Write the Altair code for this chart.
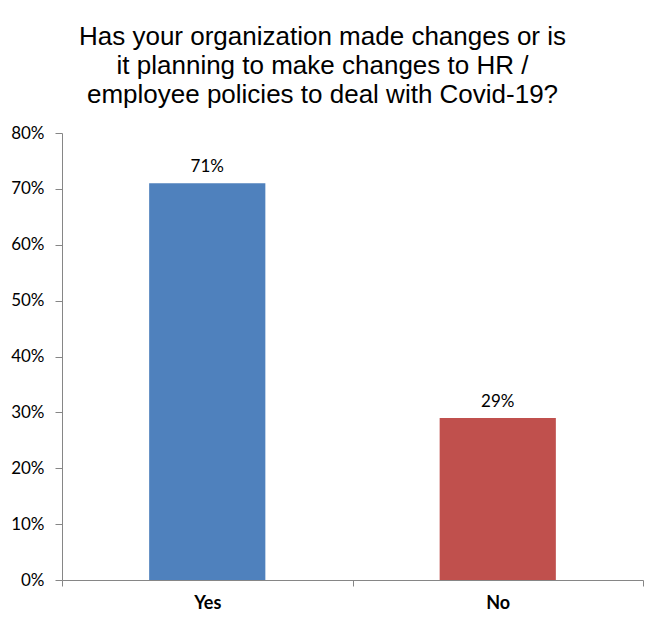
import altair as alt
import pandas as pd

categories = ["Yes", "No"]
values = [0.71, 0.29]
colors = ["#4F81BD", "#C0504D"]
y_ticks = [0, 0.1, 0.2, 0.3, 0.4, 0.5, 0.6, 0.7, 0.8]
title_lines = [
    "Has your organization made changes or is",
    "it planning to make changes to HR /",
    "employee policies to deal with Covid-19?",
]

df = pd.DataFrame({"answer": categories, "share": values})

x_enc = alt.X(
    "answer:N",
    sort=categories,
    title=None,
    scale=alt.Scale(paddingInner=0, paddingOuter=0),
    axis=alt.Axis(
        labelAngle=0,
        labelFont="Lato",
        labelFontSize=18,
        labelFontWeight="bold",
        labelColor="#000000",
        labelPadding=8,
        tickBand="extent",
        tickSize=6,
        tickColor="#868686",
        domainColor="#868686",
        grid=False,
    ),
)
y_enc = alt.Y(
    "share:Q",
    title=None,
    scale=alt.Scale(domain=[0, 0.8], nice=False),
    axis=alt.Axis(
        values=y_ticks,
        format=".0%",
        labelFont="Lato",
        labelFontSize=17,
        labelColor="#000000",
        labelPadding=11,
        tickSize=7,
        tickColor="#868686",
        domainColor="#868686",
        grid=False,
    ),
)

bars = alt.Chart(df).mark_bar(width=alt.RelativeBandSize(0.4)).encode(
    x=x_enc,
    y=y_enc,
    color=alt.Color("answer:N", scale=alt.Scale(domain=categories, range=colors), legend=None),
)
labels = alt.Chart(df).mark_text(
    font="Lato", fontSize=17, color="#000000", baseline="alphabetic", dy=-11
).encode(
    x=alt.X("answer:N", sort=categories),
    y="share:Q",
    text=alt.Text("share:Q", format=".0%"),
)

chart = (
    alt.layer(bars, labels)
    .properties(
        width=581,
        height=447,
        autosize=alt.AutoSizeParams(type="none"),
        padding={"left": 54, "top": 125, "right": 4, "bottom": 36},
        title=alt.TitleParams(
            text=title_lines,
            font="Liberation Sans",
            fontSize=26,
            fontWeight="normal",
            color="#000000",
            lineHeight=29,
            anchor="middle",
            dx=-30,
            offset=16,
        ),
    )
    .configure_view(stroke=None)
)

chart.save("out.html", embed_options={"renderer": "svg", "actions": False})
